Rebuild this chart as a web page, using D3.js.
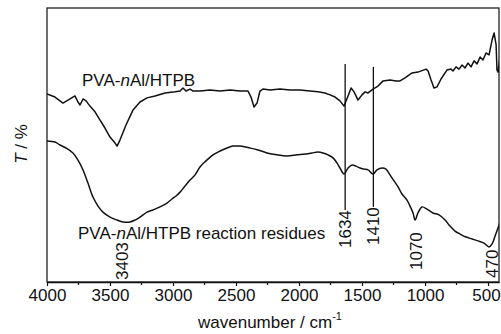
<!DOCTYPE html>
<html>
<head>
<meta charset="utf-8">
<script src="https://cdn.jsdelivr.net/npm/d3@7"></script>
<style>
  body { margin: 0; background: #fff; }
  svg { display: block; font-family: "Liberation Sans", Arial, sans-serif; }
</style>
</head>
<body>
<svg id="chart" width="501" height="334"></svg>
<script>
// wavenumber (cm-1) and transmittance (arbitrary %)
var upperWave = [4000, 3937, 3873, 3817, 3778, 3754, 3738, 3714, 3690, 3659, 3619, 3579, 3540, 3500, 3460, 3444,
    3421, 3373, 3317, 3262, 3206, 3143, 3063, 2984, 2944, 2921, 2897, 2865, 2841, 2786, 2706, 2627, 2548, 2468,
    2405, 2381, 2357, 2333, 2310, 2286, 2230, 2151, 2071, 1992, 1913, 1849, 1794, 1754, 1714, 1675, 1643, 1611,
    1587, 1563, 1532, 1500, 1476, 1452, 1413, 1373, 1333, 1278, 1230, 1198, 1159, 1103, 1056, 992, 976, 952, 929,
    905, 873, 825, 794, 778, 754, 730, 706, 683, 659, 635, 611, 587, 563, 540, 516, 492, 468, 452, 436, 429, 421, 405];
var upperT = [68.6, 67.5, 65.3, 66.8, 67.9, 65.7, 64.6, 66.8, 66.1, 64.2, 62.1, 59.1, 56.2, 52.9, 50.7, 49.6,
    51.8, 57.3, 62.8, 65.7, 67.2, 67.9, 69.0, 69.4, 69.7, 70.8, 69.7, 70.4, 69.7, 69.7, 70.1, 69.7, 70.1, 69.7,
    69.7, 67.5, 63.9, 65.3, 69.7, 70.4, 70.1, 70.4, 70.1, 70.1, 69.7, 69.4, 69.0, 68.3, 67.5, 66.1, 64.2, 67.9,
    70.8, 69.4, 66.4, 68.3, 69.4, 69.0, 70.4, 71.5, 73.4, 73.7, 73.4, 73.4, 74.5, 76.3, 76.6, 77.7, 77.0, 73.7, 70.8,
    71.2, 74.1, 77.4, 77.7, 77.0, 78.5, 77.7, 79.2, 78.1, 79.9, 78.5, 80.7, 79.6, 82.1, 81.0, 83.6, 82.9, 88.3, 90.9, 86.5, 77.4, 76.6, 82.1];

var lowerWave = [4000, 3937, 3897, 3849, 3794, 3754, 3714, 3675, 3635, 3595, 3556, 3500, 3444, 3397, 3341, 3302,
    3262, 3206, 3159, 3103, 3048, 3008, 2976, 2944, 2905, 2865, 2825, 2786, 2738, 2683, 2627, 2571, 2524, 2468,
    2389, 2325, 2254, 2175, 2095, 2016, 1952, 1897, 1849, 1810, 1770, 1730, 1698, 1675, 1643, 1611, 1579, 1548,
    1516, 1484, 1452, 1413, 1381, 1341, 1310, 1278, 1246, 1214, 1183, 1143, 1119, 1095, 1079, 1056, 1024, 984, 937,
    889, 841, 802, 762, 722, 675, 627, 579, 532, 492, 468, 444, 421, 405];
var lowerT = [51.5, 51.1, 50.0, 48.9, 47.1, 44.5, 40.9, 36.1, 31.0, 27.7, 25.5, 23.7, 22.6, 21.9, 21.9, 22.6,
    23.7, 25.5, 26.3, 27.4, 28.8, 30.3, 31.4, 32.8, 35.0, 37.2, 39.1, 42.0, 44.2, 46.4, 47.8, 48.9, 49.6, 49.6,
    48.9, 48.2, 47.1, 46.4, 46.0, 46.4, 46.7, 47.1, 47.4, 47.1, 46.4, 45.3, 43.4, 41.6, 39.4, 41.6, 42.7, 42.3,
    41.6, 41.2, 40.9, 39.4, 40.9, 41.6, 41.2, 39.1, 36.9, 34.7, 32.1, 29.9, 27.7, 25.2, 22.6, 25.2, 27.4, 26.6, 25.2,
    24.5, 22.6, 20.4, 18.6, 17.5, 16.4, 15.7, 15.0, 14.2, 12.8, 13.9, 16.8, 19.7, 21.9];

var xTicks = [4000, 3500, 3000, 2500, 2000, 1500, 1000, 500];
var markerWave = [1634, 1410];
var markerTop = [79.6, 78.5];
var markerBottom = [26.3, 27.4];
var peakLabels = ["3403", "1634", "1410", "1070", "470"];
var seriesNames = ["PVA-", "nAl/HTPB"];

(function () {
    'use strict';

    var svg = d3.select("#chart"),
        left = 47, right = 499, top = 8, bottom = 282;

    var x = d3.scaleLinear().domain([4000, 413]).range([left, right]);
    var y = d3.scaleLinear().domain([0, 100]).range([bottom, top]);

    svg.append("defs").append("clipPath").attr("id", "clip")
        .append("rect")
        .attr("x", left).attr("y", top)
        .attr("width", right - left).attr("height", bottom - top);

    // frame
    svg.append("rect")
        .attr("x", left).attr("y", top)
        .attr("width", right - left).attr("height", bottom - top)
        .attr("fill", "none")
        .attr("stroke", "#222")
        .attr("stroke-width", 1.3);

    // bottom axis
    var minor = d3.range(3750, 400, -250).filter(function (d) { return d % 500 !== 0; });
    var axis = svg.append("g").attr("transform", "translate(0," + bottom + ")");
    axis.call(d3.axisBottom(x).tickValues(xTicks).tickFormat(d3.format("d"))
        .tickSize(4).tickSizeOuter(0).tickPadding(3));
    axis.selectAll("text")
        .attr("font-size", "17px")
        .attr("fill", "#111")
        .attr("font-family", "Liberation Sans, Arial, sans-serif");
    axis.selectAll(".tick text")
        .filter(function (d) { return d === 500; })
        .attr("dx", -2);
    axis.select(".domain").attr("stroke", "#111").attr("stroke-width", 1.3);
    axis.selectAll(".tick line").attr("stroke", "#111").attr("stroke-width", 1.2);
    axis.selectAll(".minor")
        .data(minor)
        .enter()
        .append("line")
        .attr("class", "minor")
        .attr("x1", function (d) { return x(d); })
        .attr("x2", function (d) { return x(d); })
        .attr("y1", 0).attr("y2", 3)
        .attr("stroke", "#111")
        .attr("stroke-width", 1.2);

    // spectra
    var upper = upperWave.map(function (w, i) { return [w, upperT[i]]; });
    var lower = lowerWave.map(function (w, i) { return [w, lowerT[i]]; });

    var line = d3.line()
        .x(function (d) { return x(d[0]); })
        .y(function (d) { return y(d[1]); });

    var plot = svg.append("g").attr("clip-path", "url(#clip)");
    plot.append("path")
        .attr("d", line.curve(d3.curveLinear)(upper))
        .attr("fill", "none")
        .attr("stroke", "#111")
        .attr("stroke-width", 1.5)
        .attr("stroke-linejoin", "round");
    plot.append("path")
        .attr("d", line.curve(d3.curveCatmullRom)(lower))
        .attr("fill", "none")
        .attr("stroke", "#111")
        .attr("stroke-width", 1.5);

    // marker lines
    svg.selectAll(".marker")
        .data(markerWave)
        .enter()
        .append("line")
        .attr("class", "marker")
        .attr("x1", function (d) { return x(d); })
        .attr("x2", function (d) { return x(d); })
        .attr("y1", function (d, i) { return y(markerTop[i]); })
        .attr("y2", function (d, i) { return y(markerBottom[i]); })
        .attr("stroke", "#111")
        .attr("stroke-width", 1.3);

    // peak labels (rotated, bottom end in pixels)
    var labelFoot = [280, 248, 245, 270, 278];
    svg.selectAll(".peak")
        .data(peakLabels)
        .enter()
        .append("text")
        .attr("class", "peak")
        .attr("transform", function (d, i) {
            return "translate(" + (x(+d) + 6) + "," + labelFoot[i] + ") rotate(-90)";
        })
        .attr("font-size", "17px")
        .attr("fill", "#111")
        .text(function (d) { return d; });

    // series labels
    var t1 = svg.append("text").attr("x", 82).attr("y", 86)
        .attr("font-size", "17px").attr("fill", "#111");
    t1.append("tspan").text(seriesNames[0]);
    t1.append("tspan").attr("font-style", "italic").text("n");
    t1.append("tspan").text(seriesNames[1].slice(1));

    var t2 = svg.append("text").attr("x", 78).attr("y", 239)
        .attr("font-size", "17px").attr("fill", "#111");
    t2.append("tspan").text(seriesNames[0]);
    t2.append("tspan").attr("font-style", "italic").text("n");
    t2.append("tspan").text(seriesNames[1].slice(1) + " reaction residues");

    // axis titles
    var xt = svg.append("text").attr("x", 198).attr("y", 328)
        .attr("font-size", "17px").attr("fill", "#111");
    xt.append("tspan").text("wavenumber / cm");
    xt.append("tspan").attr("font-size", "11px").attr("dy", -8).text("-1");

    var yt = svg.append("text")
        .attr("transform", "translate(27,144) rotate(-90)")
        .attr("text-anchor", "middle")
        .attr("font-size", "17px").attr("fill", "#111");
    yt.append("tspan").attr("font-style", "italic").text("T");
    yt.append("tspan").text(" / %");
})();
</script>
</body>
</html>
